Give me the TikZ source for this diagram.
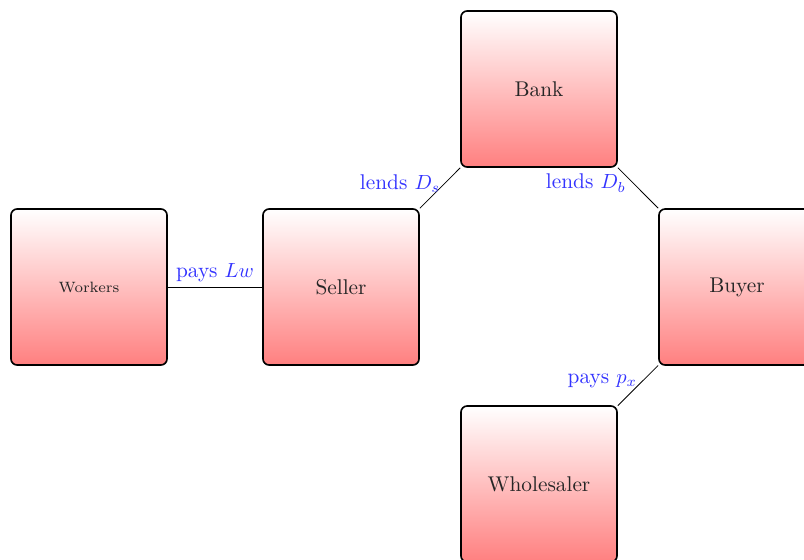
\documentclass[tikz,border=0pt]{standalone}
\usetikzlibrary{positioning}
\begin{document}
\begin{tikzpicture}[x=0.4878pt, y=-0.4878pt,
  agent/.style={draw=black, thick, rounded corners=3pt, top color=white, bottom color=red!50,
    minimum size=76.1pt, inner sep=0pt, text=black!85, font=\fontsize{10.4}{12}\selectfont},
  smallagent/.style={agent, font=\fontsize{7.3}{9}\selectfont},
  conn/.style={draw=black, line width=0.4pt},
  lbl/.style={text=blue!80, inner sep=0pt, font=\fontsize{10.4}{12}\selectfont}]
\useasboundingbox (0,0) rectangle (804,559);
\node[smallagent] (workers) at (89,287) {Workers};
\node[agent] (seller) at (341,287) {Seller};
\node[agent] (bank) at (539,89) {Bank};
\node[agent] (buyer) at (737,287) {Buyer};
\node[agent] (wholesaler) at (539,484) {Wholesaler};
\draw[conn] (workers) -- node[lbl, pos=0.5, anchor=base, yshift=4.4pt] {pays $Lw$} (seller);
\draw[conn] (seller) -- node[lbl, pos=0.5, anchor=base east, xshift=0.3pt, yshift=-0.5pt] {lends $D_s$} (bank);
\draw[conn] (bank) -- node[lbl, pos=0.5, anchor=base east, xshift=-5.8pt, yshift=-0.5pt] {lends $D_b$} (buyer);
\draw[conn] (buyer) -- node[lbl, pos=0.5, anchor=base east, xshift=-0.3pt, yshift=1.2pt] {pays $p_x$} (wholesaler);
\end{tikzpicture}
\end{document}
